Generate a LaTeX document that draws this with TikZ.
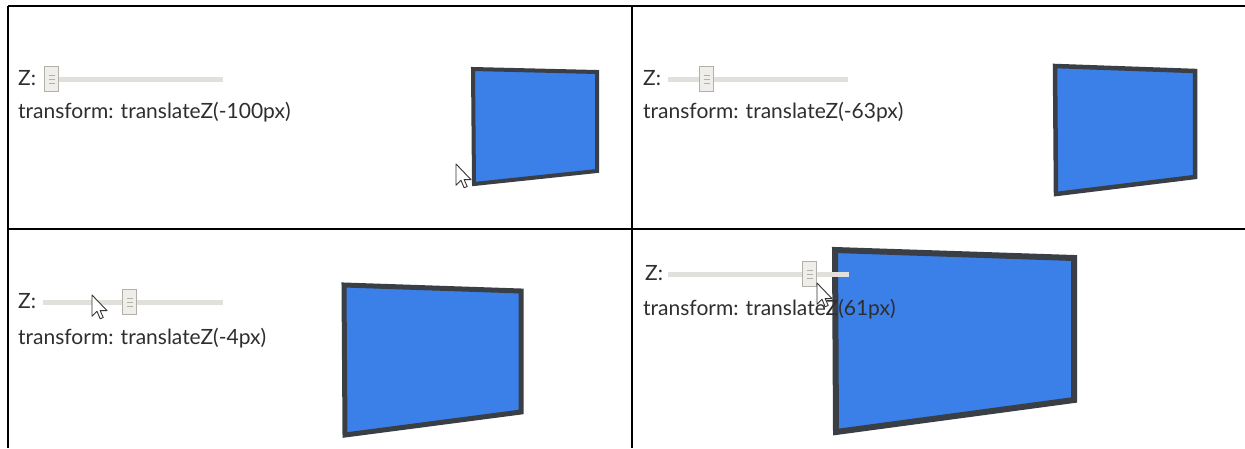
\documentclass[tikz,border=0pt]{standalone}
\usepackage{fontspec}
\setmainfont{Lato}
\usepackage{xcolor}
\usetikzlibrary{arrows.meta, positioning}

\definecolor{cardblue}{HTML}{3B7FE8}
\definecolor{cardedge}{HTML}{3A3F45}
\definecolor{trackgray}{HTML}{E2E0DB}
\definecolor{thumbfill}{HTML}{F0EEEA}
\definecolor{thumbedge}{HTML}{B3B0AA}
\definecolor{inktext}{HTML}{2E2E2E}

\begin{document}
\begin{tikzpicture}[
    x=1pt, y=-1pt,
    divider/.style={line width=2pt, black},
    track/.style={line width=5pt, trackgray},
    thumb/.style={rectangle, draw=thumbedge, fill=thumbfill, line width=0.8pt,
                  minimum width=14pt, minimum height=25pt, inner sep=0pt,
                  path picture={
                    \foreach \dy in {-4,0,4}
                      \draw[thumbedge, line width=0.7pt]
                        ([xshift=-3pt, yshift=\dy pt]path picture bounding box.center)
                        -- ++(6pt,0);}},
    lbl/.style={anchor=base west, inner sep=0pt, text=inktext,
                font=\fontsize{21}{25}\selectfont},
    card/.style={fill=cardblue, draw=cardedge, line join=miter},
    cursor/.pic={
      \draw[fill=white, draw=black!80, line width=0.9pt, line join=round, scale=1.25]
        (0,0) -- (0,17) -- (4,13) -- (6.5,19) -- (9,18) -- (6.5,12.5)
        -- (12,12.5) -- cycle;},
]
  \useasboundingbox[fill=white] (0,0) rectangle (1245,448);

  % panel 1: translateZ(-100px)
  \draw[card, line width=4pt] (473,69) -- (597,72) -- (597,171) -- (474,184) -- cycle;
  \draw[track] (44,79) -- (223,79);
  \node[thumb] (th1) at (51.5,79) {};
  \node[lbl] (z1) at (18,85) {Z:};
  \node[lbl] (tf1) at (18,118) {transform: translateZ(-100px)};
  \pic at (456,164) {cursor};

  % panel 2: translateZ(-63px)
  \draw[card, line width=4.5pt] (1055,66) -- (1195,71) -- (1195,177) -- (1056,194) -- cycle;
  \draw[track] (668,79) -- (848,79);
  \node[thumb] (th2) at (706.5,79) {};
  \node[lbl] (z2) at (643,85) {Z:};
  \node[lbl] (tf2) at (643,118) {transform: translateZ(-63px)};

  % panel 3: translateZ(-4px)
  \draw[card, line width=5pt] (344,285) -- (521,291) -- (521,412) -- (345,435) -- cycle;
  \draw[track] (43,302) -- (223,302);
  \node[thumb] (th3) at (129.5,302) {};
  \node[lbl] (z3) at (18,308) {Z:};
  \node[lbl] (tf3) at (18,344) {transform: translateZ(-4px)};
  \pic at (92,295) {cursor};

  % panel 4: translateZ(61px)
  \draw[card, line width=6pt] (835,250) -- (1074,258) -- (1074,400) -- (836,432) -- cycle;
  \draw[track] (668,274) -- (849,274);
  \node[thumb] (th4) at (809.5,274) {};
  \node[lbl] (z4) at (645,280) {Z:};
  \node[lbl] (tf4) at (643,315) {transform: translateZ(61px)};
  \pic at (817,283) {cursor};

  % frame
  \draw[divider] (8,6) -- (1245,6);
  \draw[divider] (8,6) -- (8,448);
  \draw[divider] (632,6) -- (632,448);
  \draw[divider] (8,229) -- (1245,229);
\end{tikzpicture}
\end{document}
